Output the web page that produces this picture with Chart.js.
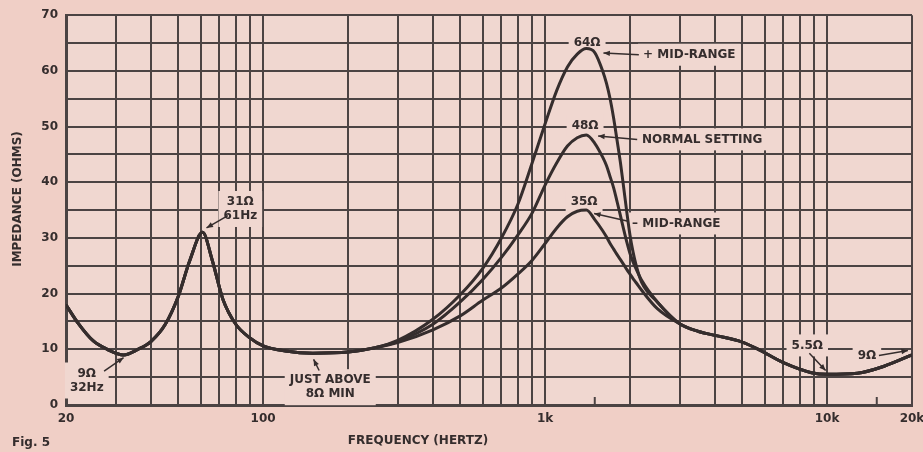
<!DOCTYPE html>
<html>
<head>
<meta charset="utf-8">
<title>Impedance – Fig. 5</title>
<script src="https://cdn.jsdelivr.net/npm/chart.js@4"></script>
<style>
  html, body { margin: 0; padding: 0; background: #f0cfc6; }
  #wrap { width: 923px; height: 452px; }
</style>
</head>
<body>
<div id="wrap"><canvas id="impedance" width="923" height="452"></canvas></div>
<script>
// --- data ---------------------------------------------------------------
// below ~300 Hz the three settings lie on one curve
const FREQ_BASS = [20, 22, 25, 28, 32, 36, 40, 45, 50, 55, 61, 66, 72, 80, 90, 100, 120, 150, 200, 250];
const IMP_BASS  = [18, 14.8, 11.5, 10, 9, 10, 11.4, 14.5, 19.5, 26, 31, 26, 19, 14.5, 12, 10.6, 9.7, 9.3, 9.5, 10.3];

// mid-range crossover region, one array per setting
const FREQ_MID   = [300, 400, 500, 600, 700, 800, 900, 1000, 1100, 1200, 1300, 1400, 1500, 1600, 1650, 1700, 1750, 1800, 1850, 1900, 1950, 2000, 2050, 2100, 2200, 2500];
const IMP_BOOST  = [11.6, 15.4, 19.8, 24.5, 30, 36, 43.5, 50.5, 56.5, 60.7, 63, 64, 63.3, 60, 57.8, 55, 51.5, 47.5, 43.5, 39, 34.5, 30.5, 27.5, 25.2, 22, 18.5];
const IMP_NORMAL = [11.4, 14.5, 18.5, 22.5, 26.5, 30.5, 34.5, 39.5, 43.5, 46.5, 48, 48.5, 47, 44.5, 43, 41, 39, 36.5, 34, 31.5, 29.2, 27.2, 25.7, 24.5, 22.4, 18.5];
const IMP_CUT    = [11.2, 13.5, 16, 18.8, 21, 23.5, 26, 29, 31.8, 33.8, 34.8, 35, 33.3, 31.3, 30.2, 29, 28, 27, 26.1, 25.2, 24.3, 23.5, 22.7, 22, 20.6, 17.3];

// tweeter region, curves merge again
const FREQ_TREBLE = [3000, 3500, 4000, 5000, 5700, 7000, 8800, 10000, 12800, 16000, 20000];
const IMP_TREBLE  = [14.6, 13.2, 12.5, 11.3, 10, 7.6, 5.8, 5.5, 5.7, 7, 9];

const X_TICKS      = [20, 100, 1000, 10000, 20000];
const X_TICK_TEXT  = ['20', '100', '1k', '10k', '20k'];
const HALF_DECADES = [150, 1500, 15000];   // library adds these, the scan has no line there
const SHORT_MARKS  = [1500, 15000];

// callouts in data coordinates [Hz, ohms]
const CALLOUTS = [
  { lines: ['64Ω'], at: [1409, 65.0] },
  { lines: ['+ MID-RANGE'], at: [2225, 62.9], align: 'left' },
  { lines: ['48Ω'], at: [1386, 50.2] },
  { lines: ['NORMAL SETTING'], at: [2207, 47.7], align: 'left' },
  { lines: ['35Ω'], at: [1375, 36.5] },
  { lines: ['– MID-RANGE'], at: [2035, 32.6], align: 'left' },
  { lines: ['31Ω', '61Hz'], at: [83, 35.2] },
  { lines: ['9Ω', '32Hz'], at: [23.7, 4.4] },
  { lines: ['JUST ABOVE', '8Ω MIN'], at: [173, 3.2] },
  { lines: ['5.5Ω'], at: [8505, 10.7] },
  { lines: ['9Ω'], at: [13840, 8.9] }
];
const ARROWS = [
  { from: [2150, 62.9], to: [1610, 63.2] },
  { from: [2121, 47.7], to: [1542, 48.3] },
  { from: [1970, 33.0], to: [1492, 34.4] },
  { from: [75, 34.0], to: [63, 31.8] },
  { from: [27.3, 6.1], to: [32, 8.5] },
  { from: [158, 6.2], to: [151, 8.2] },
  { from: [8650, 9.3], to: [9880, 6.2] },
  { from: [15270, 8.9], to: [19340, 9.8] }
];

const INK = '#352d2d';
const GRID = '#4b4343';
const PAGE_BG = '#f0cfc6';
const PLOT_BG = '#f0d7d0';
const FONT = '"DejaVu Sans", "Liberation Sans", sans-serif';

function points(freqs, vals) {
  return freqs.map((f, i) => ({ x: f, y: vals[i] }));
}
function curve(mid) {
  return points(FREQ_BASS, IMP_BASS).concat(points(FREQ_MID, mid), points(FREQ_TREBLE, IMP_TREBLE));
}

const scanPlugin = {
  id: 'scan',
  beforeDraw(chart) {
    const { ctx, chartArea: a } = chart;
    ctx.save();
    ctx.fillStyle = PAGE_BG;
    ctx.fillRect(0, 0, chart.width, chart.height);
    ctx.fillStyle = PLOT_BG;
    ctx.fillRect(a.left, a.top, a.right - a.left, a.bottom - a.top);
    ctx.restore();
  },
  beforeDatasetsDraw(chart) {
    const { ctx, scales: { x, y }, chartArea: a } = chart;
    ctx.save();
    ctx.font = 'bold 12px ' + FONT;
    ctx.textBaseline = 'middle';
    CALLOUTS.forEach(c => {
      const px = x.getPixelForValue(c.at[0]);
      const py = y.getPixelForValue(c.at[1]);
      const w = Math.max(...c.lines.map(l => ctx.measureText(l).width));
      const lh = 14;
      const h = lh * c.lines.length;
      const left = c.align === 'left' ? px : px - w / 2;
      // clear the grid behind the label like the original artwork
      ctx.fillStyle = PLOT_BG;
      ctx.fillRect(left - 5, py - h / 2 - 4, w + 10, h + 8);
      ctx.fillStyle = INK;
      ctx.textAlign = c.align === 'left' ? 'left' : 'center';
      c.lines.forEach((l, i) => {
        ctx.fillText(l, px, py - h / 2 + lh * (i + 0.5));
      });
    });
    // short half-decade marks on the frequency axis
    ctx.strokeStyle = GRID;
    ctx.lineWidth = 2;
    SHORT_MARKS.forEach(f => {
      const px = x.getPixelForValue(f);
      ctx.beginPath();
      ctx.moveTo(px, a.bottom);
      ctx.lineTo(px, a.bottom - 8);
      ctx.stroke();
    });
    ctx.restore();
  },
  afterDatasetsDraw(chart) {
    const { ctx, scales: { x, y } } = chart;
    ctx.save();
    ctx.strokeStyle = INK;
    ctx.fillStyle = INK;
    ctx.lineWidth = 1.5;
    ARROWS.forEach(ar => {
      const x1 = x.getPixelForValue(ar.from[0]), y1 = y.getPixelForValue(ar.from[1]);
      const x2 = x.getPixelForValue(ar.to[0]), y2 = y.getPixelForValue(ar.to[1]);
      const ang = Math.atan2(y2 - y1, x2 - x1);
      ctx.beginPath();
      ctx.moveTo(x1, y1);
      ctx.lineTo(x2, y2);
      ctx.stroke();
      ctx.beginPath();
      ctx.moveTo(x2, y2);
      ctx.lineTo(x2 - 7 * Math.cos(ang - 0.4), y2 - 7 * Math.sin(ang - 0.4));
      ctx.lineTo(x2 - 7 * Math.cos(ang + 0.4), y2 - 7 * Math.sin(ang + 0.4));
      ctx.closePath();
      ctx.fill();
    });
    ctx.restore();
  },
  afterDraw(chart) {
    const { ctx } = chart;
    ctx.save();
    ctx.fillStyle = INK;
    ctx.font = 'bold 12px ' + FONT;
    ctx.textBaseline = 'middle';
    ctx.textAlign = 'center';
    ctx.fillText('FREQUENCY (HERTZ)', 418, 441);
    ctx.textAlign = 'left';
    ctx.fillText('Fig. 5', 12, 443);
    // axis title sits a little above the middle of the scale in the scan
    ctx.translate(18, 199);
    ctx.rotate(-Math.PI / 2);
    ctx.textAlign = 'center';
    ctx.fillText('IMPEDANCE (OHMS)', 0, 0);
    ctx.restore();
  }
};

const tickFont = { family: FONT, size: 12, weight: 'bold' };

new Chart(document.getElementById('impedance'), {
  type: 'line',
  data: {
    datasets: [
      { label: '+ mid-range', data: curve(IMP_BOOST) },
      { label: 'normal setting', data: curve(IMP_NORMAL) },
      { label: '- mid-range', data: curve(IMP_CUT) }
    ].map(d => Object.assign(d, {
      borderColor: INK,
      borderWidth: 3,
      pointRadius: 0,
      fill: false,
      cubicInterpolationMode: 'monotone'
    }))
  },
  options: {
    responsive: false,
    animation: false,
    layout: { padding: { top: 12, right: 0, bottom: 0, left: 0 } },
    plugins: { legend: { display: false }, tooltip: { enabled: false } },
    scales: {
      x: {
        type: 'logarithmic',
        min: 20,
        max: 20000,
        afterFit(scale) {
          scale.height = 47;
          // let the "20k" label hang off the right edge like the scan
          scale.paddingLeft = 0;
          scale.paddingRight = 11;
        },
        grid: {
          color: ctx => (ctx.tick && HALF_DECADES.includes(ctx.tick.value)) ? 'rgba(0,0,0,0)' : GRID,
          lineWidth: 2,
          drawTicks: false
        },
        border: { color: GRID, width: 3 },
        ticks: {
          autoSkip: false,
          maxRotation: 0,
          padding: 7,
          color: INK,
          font: tickFont,
          callback: v => {
            const i = X_TICKS.indexOf(v);
            return i >= 0 ? X_TICK_TEXT[i] : '';
          }
        }
      },
      y: {
        min: 0,
        max: 70,
        afterFit(scale) { scale.width = 66; },
        grid: { color: GRID, lineWidth: 2, drawTicks: false },
        border: { color: GRID, width: 3 },
        ticks: {
          stepSize: 5,
          padding: 8,
          color: INK,
          font: tickFont,
          callback: v => (v % 10 === 0 ? String(v) : '')
        }
      }
    }
  },
  plugins: [scanPlugin]
});
</script>
</body>
</html>
